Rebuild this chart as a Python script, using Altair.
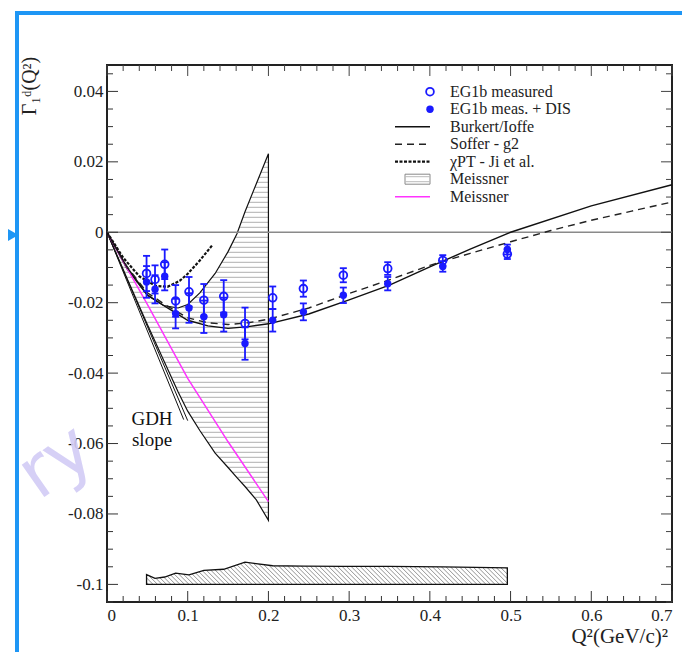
import numpy as np
import pandas as pd
import altair as alt

# ---------------- data ----------------
q2 = [0.049, 0.0595, 0.0715, 0.085, 0.1016, 0.120, 0.1446, 0.171, 0.2053, 0.2433, 0.2928, 0.3478, 0.416, 0.496]
meas = [-0.0117, -0.0134, -0.0091, -0.0195, -0.0169, -0.0193, -0.0182, -0.0259, -0.0186, -0.0160, -0.0122, -0.0103, -0.0080, -0.0062]
meas_err = [0.0050, 0.0040, 0.0042, 0.0045, 0.0042, 0.0046, 0.0046, 0.0045, 0.0032, 0.0023, 0.0020, 0.0018, 0.0015, 0.0014]
dis = [-0.0141, -0.0162, -0.0125, -0.0231, -0.0215, -0.0240, -0.0234, -0.0316, -0.0250, -0.0226, -0.0179, -0.0146, -0.0097, -0.0049]
dis_err = [0.0045, 0.0040, 0.0040, 0.0042, 0.0042, 0.0046, 0.0048, 0.0046, 0.0032, 0.0024, 0.0022, 0.0019, 0.0015, 0.0014]

sys_top = [-0.0972, -0.0983, -0.0979, -0.0968, -0.0973, -0.0960, -0.0957, -0.0937, -0.0947, -0.0948, -0.0949, -0.0949, -0.0950, -0.0953]
sys_floor = -0.1

burkert_x = [0, 0.025, 0.05, 0.075, 0.1, 0.125, 0.15, 0.175, 0.2, 0.25, 0.3, 0.35, 0.4, 0.45, 0.5, 0.6, 0.7]
burkert_y = [0, -0.0100, -0.0178, -0.0215, -0.0250, -0.0266, -0.0273, -0.0268, -0.0260, -0.0232, -0.0192, -0.0150, -0.0098, -0.0048, 0.0, 0.0075, 0.0135]

soffer_x = [0, 0.025, 0.05, 0.075, 0.1, 0.125, 0.15, 0.175, 0.2, 0.25, 0.3, 0.35, 0.4, 0.45, 0.5, 0.55, 0.6, 0.65, 0.7]
soffer_y = [0, -0.0098, -0.0172, -0.0210, -0.0243, -0.0257, -0.0262, -0.0257, -0.0247, -0.0215, -0.0174, -0.0135, -0.0094, -0.0060, -0.0027, 0.0005, 0.0034, 0.0060, 0.0086]

chpt_x = [0, 0.02, 0.04, 0.06, 0.075, 0.09, 0.1, 0.115, 0.13]
chpt_y = [0, -0.0072, -0.0125, -0.0152, -0.0155, -0.0138, -0.0118, -0.0080, -0.0038]

band_x = [0, 0.025, 0.05, 0.07, 0.088, 0.1, 0.115, 0.134, 0.15, 0.161, 0.171, 0.185, 0.2]
band_hi = [0, -0.0105, -0.0179, -0.0208, -0.0215, -0.0205, -0.0172, -0.0117, -0.0055, -0.0004, 0.0058, 0.0138, 0.0223]
band_lo = [0, -0.0132, -0.0262, -0.0363, -0.0453, -0.0508, -0.0563, -0.0627, -0.0668, -0.0697, -0.0722, -0.0760, -0.0818]

meis_x = [0, 0.05, 0.1, 0.15, 0.2]
meis_y = [0, -0.0205, -0.0415, -0.0595, -0.0765]

gdh_end_x = [0.1, 0.095]
gdh_end_y = [-0.0535, -0.0532]

x_ticks = [0, 0.1, 0.2, 0.3, 0.4, 0.5, 0.6, 0.7]
y_ticks = [-0.1, -0.08, -0.06, -0.04, -0.02, 0, 0.02, 0.04]

legend_labels = ["EG1b measured", "EG1b meas. + DIS", "Burkert/Ioffe", "Soffer - g2",
                 "\u03c7PT - Ji et al.", "Meissner", "Meissner"]

# ---------------- layout ----------------
W, H = 565, 537
XDOM = [0, 0.7]
YDOM = [-0.105, 0.0475]
SX = W / (XDOM[1] - XDOM[0])
SY = H / (YDOM[1] - YDOM[0])
xs = alt.Scale(domain=XDOM, nice=False, zero=False)
ys = alt.Scale(domain=YDOM, nice=False, zero=False)
BLUE = "#1a1aff"
SERIF = "Liberation Serif"

XAXIS = alt.Axis(values=x_ticks, ticks=False, domain=False, grid=False, title=None,
                 labelFont=SERIF, labelFontSize=17, labelColor="#222", labelPadding=5,
                 labelExpr="format(datum.value, '~g')")
YAXIS = alt.Axis(values=y_ticks, ticks=False, domain=False, grid=False, title=None,
                 labelFont=SERIF, labelFontSize=17, labelColor="#222", labelPadding=4,
                 labelExpr="replace(format(datum.value, '~g'), '\u2212', '-')")


def X(f):
    return alt.X(f, type="quantitative", scale=xs, axis=XAXIS)


def Y(f):
    return alt.Y(f, type="quantitative", scale=ys, axis=YAXIS)


def px_to_x(p):
    return XDOM[0] + p / SX


def px_to_y(p):
    return YDOM[1] - p / SY


def runs(grid, inside):
    out = []
    i, n = 0, len(grid)
    while i < n:
        if inside[i]:
            j = i
            while j + 1 < n and inside[j + 1]:
                j += 1
            out.append((i, j))
            i = j + 1
        else:
            i += 1
    return out


# horizontal hatch for Meissner band
xg = np.linspace(band_x[0], band_x[-1], 2001)
hig = np.interp(xg, band_x, band_hi)
log = np.interp(xg, band_x, band_lo)
step = 5.0 / SY
rows = []
for lev in np.arange(min(band_lo) + step * 0.6, max(band_hi), step):
    ins = (log <= lev) & (lev <= hig)
    for a, b in runs(xg, ins):
        if b > a:
            rows.append({"x1": xg[a], "x2": xg[b], "y": lev})
hatch_h = pd.DataFrame(rows)

# diagonal hatch for systematic band (45 degrees in pixel space)
xg2 = np.linspace(q2[0], q2[-1], 3000)
topg = np.interp(xg2, q2, sys_top)
maxh = max(sys_top) - sys_floor
rows = []
for x0 in np.arange(q2[0] + 2 / SX, q2[-1] + maxh * SY / SX, 4.5 / SX):
    yl = sys_floor + (x0 - xg2) * SX / SY
    ins = (yl >= sys_floor) & (yl <= topg)
    for a, b in runs(xg2, ins):
        if b > a:
            rows.append({"x1": xg2[a], "y1": yl[a], "x2": xg2[b], "y2": yl[b]})
hatch_d = pd.DataFrame(rows)

pts = pd.DataFrame({"q": q2, "m": meas, "me": meas_err, "d": dis, "de": dis_err})
pts["mlo"] = pts.m - pts.me
pts["mhi"] = pts.m + pts.me
pts["dlo"] = pts.d - pts.de
pts["dhi"] = pts.d + pts.de

sysdf = pd.DataFrame({"x": q2, "top": sys_top})
sysdf["bot"] = sys_floor

band = pd.DataFrame({"x": band_x, "hi": band_hi, "lo": band_lo})

layers = []

# Meissner band hatch + outline
layers.append(alt.Chart(hatch_h).mark_rule(color="#b0b0b0", strokeWidth=1).encode(
    x=X("x1"), x2="x2", y=Y("y")))
layers.append(alt.Chart(band).mark_area(fillOpacity=0, stroke="#111", strokeWidth=1.2).encode(
    x=X("x"), y=Y("hi"), y2="lo"))

# systematic band
layers.append(alt.Chart(hatch_d).mark_rule(color="#777", strokeWidth=0.8).encode(
    x=X("x1"), x2="x2", y=Y("y1"), y2="y2"))
layers.append(alt.Chart(sysdf).mark_area(fillOpacity=0, stroke="#111", strokeWidth=1.3).encode(
    x=X("x"), y=Y("top"), y2="bot"))

# zero line
layers.append(alt.Chart(pd.DataFrame({"v": [0.0]})).mark_rule(color="#8a8a8a", strokeWidth=1.6).encode(
    y=Y("v")))

# GDH slope lines
gdh = pd.DataFrame({"x": [0, gdh_end_x[0], 0, gdh_end_x[1]], "y": [0, gdh_end_y[0], 0, gdh_end_y[1]],
                    "g": [0, 0, 1, 1]})
layers.append(alt.Chart(gdh).mark_line(color="#111", strokeWidth=1).encode(
    x=X("x"), y=Y("y"), detail="g:N"))

# curves
layers.append(alt.Chart(pd.DataFrame({"x": meis_x, "y": meis_y})).mark_line(
    color="#ff33ff", strokeWidth=1.5).encode(x=X("x"), y=Y("y")))
layers.append(alt.Chart(pd.DataFrame({"x": burkert_x, "y": burkert_y})).mark_line(
    color="#111", strokeWidth=1.4).encode(x=X("x"), y=Y("y")))
layers.append(alt.Chart(pd.DataFrame({"x": soffer_x, "y": soffer_y})).mark_line(
    color="#222", strokeWidth=1.4, strokeDash=[7, 5]).encode(x=X("x"), y=Y("y")))
layers.append(alt.Chart(pd.DataFrame({"x": chpt_x, "y": chpt_y})).mark_line(
    color="#111", strokeWidth=2.2, strokeDash=[3, 1.5]).encode(x=X("x"), y=Y("y")))

# error bars and caps
for lo, hi in (("mlo", "mhi"), ("dlo", "dhi")):
    layers.append(alt.Chart(pts).mark_rule(color=BLUE, strokeWidth=1.8).encode(
        x=X("q"), y=Y(lo), y2=hi))
    for c in (lo, hi):
        layers.append(alt.Chart(pts).mark_rule(color=BLUE, strokeWidth=1.8, xOffset=-3.5, x2Offset=3.5).encode(
            x=X("q"), x2="q", y=Y(c)))

layers.append(alt.Chart(pts).mark_point(shape="circle", filled=False, size=60, strokeWidth=1.8,
                                        color=BLUE, opacity=1).encode(x=X("q"), y=Y("m")))
layers.append(alt.Chart(pts).mark_circle(size=55, color=BLUE, opacity=1).encode(x=X("q"), y=Y("d")))

# GDH slope label
layers.append(alt.Chart(pd.DataFrame({"t": ["GDH", "slope"], "y": [-0.0530, -0.0590]})).mark_text(
    font=SERIF, fontSize=19, color="#111").encode(x=alt.value(152 - 107), y=Y("y"), text="t:N"))

# ---------------- legend ----------------
leg = pd.DataFrame({"label": legend_labels, "row": list(range(len(legend_labels)))})
leg["y"] = [px_to_y(26.7 + 17.5 * r) for r in leg.row]
leg["tx"] = px_to_x(343)
leg["sx"] = px_to_x(323)
leg["lx1"] = px_to_x(288)
leg["lx2"] = px_to_x(323)
leg["bx1"] = px_to_x(298)
leg["ylo"] = leg.y - 5 / SY
leg["yhi"] = leg.y + 5 / SY

layers.append(alt.Chart(leg).mark_text(font=SERIF, fontSize=16, color="#222", align="left",
                                       baseline="middle").encode(x=X("tx"), y=Y("y"), text="label:N"))
layers.append(alt.Chart(leg[leg.row == 0]).mark_point(shape="circle", filled=False, size=60, strokeWidth=1.8,
                                                      color=BLUE, opacity=1).encode(x=X("sx"), y=Y("y")))
layers.append(alt.Chart(leg[leg.row == 1]).mark_circle(size=55, color=BLUE, opacity=1).encode(
    x=X("sx"), y=Y("y")))
layers.append(alt.Chart(leg[leg.row == 2]).mark_rule(color="#111", strokeWidth=1.4).encode(
    x=X("lx1"), x2="lx2", y=Y("y")))
layers.append(alt.Chart(leg[leg.row == 3]).mark_rule(color="#222", strokeWidth=1.4, strokeDash=[7, 5]).encode(
    x=X("lx1"), x2="lx2", y=Y("y")))
layers.append(alt.Chart(leg[leg.row == 4]).mark_rule(color="#111", strokeWidth=2.2, strokeDash=[3, 1.5]).encode(
    x=X("lx1"), x2="lx2", y=Y("y")))
layers.append(alt.Chart(leg[leg.row == 5]).mark_rect(fill="white", stroke="#888", strokeWidth=1).encode(
    x=X("bx1"), x2="lx2", y=Y("ylo"), y2="yhi"))
layers.append(alt.Chart(leg[leg.row == 5]).mark_rule(color="#bbb", strokeWidth=1, yOffset=-2.5).encode(
    x=X("bx1"), x2="lx2", y=Y("y")))
layers.append(alt.Chart(leg[leg.row == 5]).mark_rule(color="#bbb", strokeWidth=1, yOffset=2.5).encode(
    x=X("bx1"), x2="lx2", y=Y("y")))
layers.append(alt.Chart(leg[leg.row == 6]).mark_rule(color="#ff33ff", strokeWidth=1.5).encode(
    x=X("lx1"), x2="lx2", y=Y("y")))

# ---------------- ticks (inward, ROOT style) ----------------
x_minor = [v for v in np.round(np.arange(0, 0.7001, 0.02), 4) if all(abs(v - t) > 1e-6 for t in x_ticks)]
y_minor = [v for v in np.round(np.arange(-0.105, 0.0476, 0.005), 4) if all(abs(v - t) > 1e-6 for t in y_ticks)]
xt = pd.DataFrame({"v": x_ticks})
xm = pd.DataFrame({"v": x_minor})
yt = pd.DataFrame({"v": y_ticks})
ym = pd.DataFrame({"v": y_minor})
MAJ, MIN = 11, 6
for df, L in ((xt, MAJ), (xm, MIN)):
    layers.append(alt.Chart(df).mark_rule(color="#333", strokeWidth=1).encode(
        x=X("v"), y=alt.value(H), y2=alt.value(H - L)))
    layers.append(alt.Chart(df).mark_rule(color="#444", strokeWidth=1).encode(
        x=X("v"), y=alt.value(0), y2=alt.value(L)))
for df, L in ((yt, MAJ), (ym, MIN)):
    layers.append(alt.Chart(df).mark_rule(color="#333", strokeWidth=1).encode(
        y=Y("v"), x=alt.value(0), x2=alt.value(L)))
    layers.append(alt.Chart(df).mark_rule(color="#444", strokeWidth=1).encode(
        y=Y("v"), x=alt.value(W), x2=alt.value(W - L)))

# ---------------- titles and decorations ----------------
one = pd.DataFrame({"t": ["\u0393\u2081\u1d48(Q\u00b2)"]})
layers.append(alt.Chart(one).mark_text(font=SERIF, fontSize=20, color="#222", angle=270,
                                       align="center", baseline="middle").encode(
    text="t:N", x=alt.value(30 - 107), y=alt.value(86 - 65)))
layers.append(alt.Chart(pd.DataFrame({"t": ["Q\u00b2(GeV/c)\u00b2"]})).mark_text(
    font=SERIF, fontSize=21, color="#222", align="right", baseline="alphabetic").encode(
    text="t:N", x=alt.value(668 - 107), y=alt.value(643 - 65)))

# watermark fragment
layers.append(alt.Chart(pd.DataFrame({"t": ["ry"]})).mark_text(
    font="DejaVu Sans", fontSize=72, color="#d2ccf6", opacity=0.9, angle=325, align="center",
    baseline="middle").encode(
    text="t:N", x=alt.value(56 - 107), y=alt.value(462 - 65)))

# blue frame and arrow
FB = "#1e96f5"
layers.append(alt.Chart(pd.DataFrame({"a": [0]})).mark_rule(color=FB, strokeWidth=4).encode(
    x=alt.value(15 - 107), x2=alt.value(700 - 107), y=alt.value(13 - 65)))
layers.append(alt.Chart(pd.DataFrame({"a": [0]})).mark_rule(color=FB, strokeWidth=4).encode(
    x=alt.value(17 - 107), y=alt.value(11 - 65), y2=alt.value(670 - 65)))
layers.append(alt.Chart(pd.DataFrame({"a": [0]})).mark_point(shape="triangle-right", filled=True, size=700,
                                                             color=FB, opacity=1).encode(
    x=alt.value(7 - 107), y=alt.value(235 - 65)))

chart = alt.layer(*layers).properties(
    width=W, height=H,
    padding={"left": 99, "top": 57, "right": 10, "bottom": 50},
    autosize=alt.AutoSizeParams(type="none"),
    background="white",
).configure_view(stroke="#222", strokeWidth=2)

chart.save("out.html", embed_options={"renderer": "svg", "actions": False})
